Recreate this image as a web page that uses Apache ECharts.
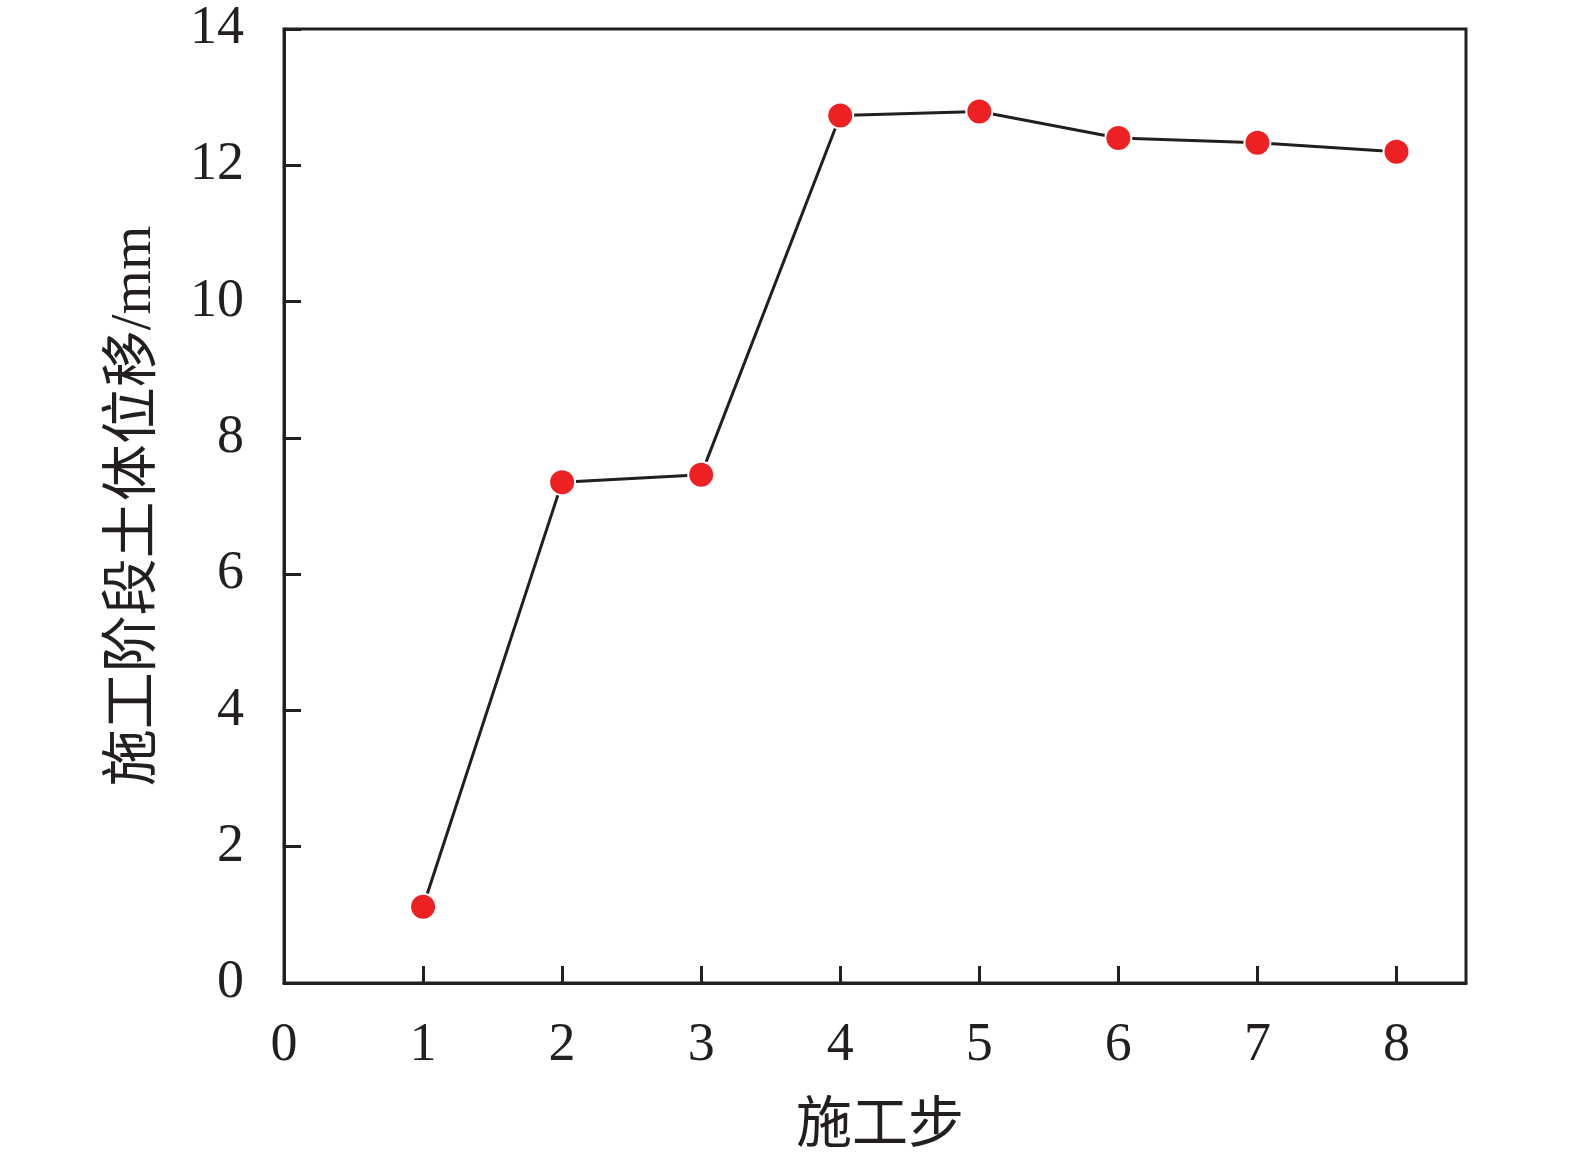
<!DOCTYPE html>
<html>
<head>
<meta charset="utf-8">
<script src="https://cdn.jsdelivr.net/npm/echarts@6/dist/echarts.min.js"></script>
<style>
html,body{margin:0;padding:0;background:#fff;}
#chart{width:1575px;height:1160px;}
</style>
</head>
<body>
<div id="chart"></div>
<script>
const steps = [1, 2, 3, 4, 5, 6, 7, 8];
const displacement = [1.12, 7.35, 7.46, 12.73, 12.79, 12.40, 12.33, 12.20];
const xTicks = [0, 1, 2, 3, 4, 5, 6, 7, 8];
const yTicks = [0, 2, 4, 6, 8, 10, 12, 14];
const xName = '施工步';
const yName = '施工阶段土体位移/mm';

const fontFam = '"Liberation Serif", "Times New Roman", "Noto Sans CJK SC", serif';
const chart = echarts.init(document.getElementById('chart'), null, {renderer: 'canvas'});
chart.setOption({
  animation: false,
  backgroundColor: '#ffffff',
  grid: {left: 284, right: 109, top: 29, bottom: 176, containLabel: false,
         show: true, borderColor: '#231f20', borderWidth: 3},
  xAxis: {
    type: 'value', min: 0, max: 8.5, interval: 1,
    name: xName, nameLocation: 'middle', nameGap: 116,
    nameTextStyle: {fontFamily: fontFam, fontSize: 56, color: '#231f20', padding: [0, 0, 0, 10]},
    axisLine: {show: true, lineStyle: {color: '#231f20', width: 3}},
    axisTick: {show: true, inside: true, length: 17, lineStyle: {color: '#231f20', width: 3},
      customValues: steps},
    axisLabel: {fontFamily: fontFam, fontSize: 54, color: '#231f20', margin: 36,
      customValues: xTicks, formatter: v => String(v)},
    splitLine: {show: false}
  },
  yAxis: {
    type: 'value', min: 0, max: 14, interval: 2,
    name: yName, nameLocation: 'middle', nameGap: 120, nameRotate: 90,
    nameTextStyle: {fontFamily: fontFam, fontSize: 57, color: '#231f20'},
    axisLine: {show: true, lineStyle: {color: '#231f20', width: 3}},
    axisTick: {show: true, inside: true, length: 17, lineStyle: {color: '#231f20', width: 3}},
    axisLabel: {fontFamily: fontFam, fontSize: 54, color: '#231f20', margin: 40,
      formatter: v => yTicks.includes(v) ? String(v) : ''},
    splitLine: {show: false}
  },
  series: [{
    type: 'line',
    data: steps.map((s, i) => [s, displacement[i]]),
    symbol: 'circle', symbolSize: 26,
    itemStyle: {color: '#ed2024', borderColor: '#ffffff', borderWidth: 2},
    lineStyle: {color: '#231f20', width: 3},
    z: 3
  }]
});
</script>
</body>
</html>
